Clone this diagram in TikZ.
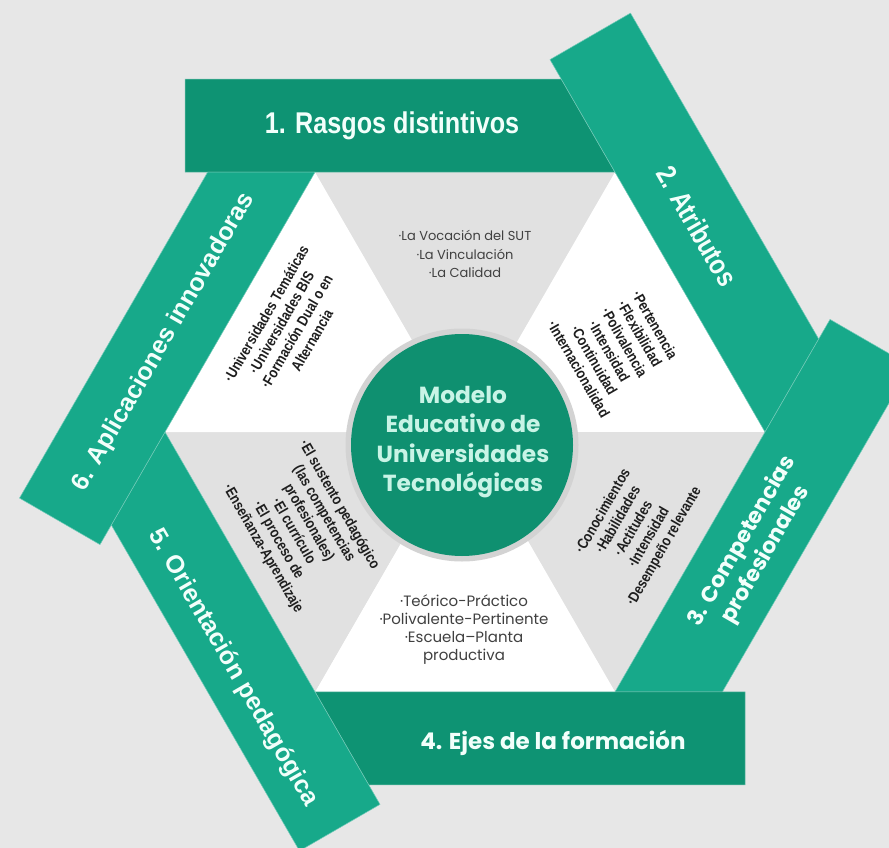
\documentclass[tikz,border=0pt]{standalone}
\usepackage{fontspec}
\setmainfont{Liberation Sans}
\newfontfamily\pop{Poppins}
\newfontfamily\lib{Liberation Sans}
\newfontfamily\narrowfont[FakeStretch=0.84]{Liberation Sans}
\usetikzlibrary{calc}
\definecolor{bg}{HTML}{E7E7E7}
\definecolor{sect}{HTML}{E1E1E1}
\definecolor{gdark}{HTML}{0E9373}
\definecolor{glight}{HTML}{17A98A}
\definecolor{gcirc}{HTML}{0F9070}
\definecolor{mint}{HTML}{C8F4E6}
\definecolor{bandtext}{HTML}{F2FFFB}
\definecolor{ringc}{HTML}{D3D3D3}
\definecolor{listc}{HTML}{1E1E1E}
\tikzset{
  bandfill/.style={fill=#1, draw=#1!60!white, line width=0.5pt, line join=miter},
  sectgrey/.style={fill=sect},
  sectwhite/.style={fill=white},
  bandtxt/.style={text=bandtext, inner sep=0pt, align=center},
  listtxt/.style={text=listc, inner sep=0pt, align=center, font=\narrowfont\bfseries\fontsize{15}{17.6}\selectfont},
  flattxt/.style={text=listc!85!white, inner sep=0pt, align=center},
}
\begin{document}
\begin{tikzpicture}[x=1pt,y=-1pt]
\path[use as bounding box, fill=bg] (0,0) rectangle (889,848);
\clip (0,0) rectangle (889,848);
% hexagon vertices
\coordinate (C) at (465,432);
\coordinate (TL) at (315,172.2);
\coordinate (TR) at (615,172.2);
\coordinate (R) at (765,432);
\coordinate (BR) at (615,691.8);
\coordinate (BL) at (315,691.8);
\coordinate (L) at (165,432);
% sectors
\fill[sectgrey]  (C)--(TL)--(TR)--cycle;
\fill[sectwhite] (C)--(TR)--(R)--cycle;
\fill[sectgrey]  (C)--(R)--(BR)--cycle;
\fill[sectwhite] (C)--(BR)--(BL)--cycle;
\fill[sectgrey]  (C)--(BL)--(L)--cycle;
\fill[sectwhite] (C)--(L)--(TL)--cycle;
% band corner coordinates
\coordinate (b1a) at (185,172.2);   \coordinate (b1b) at (185,79.2);    \coordinate (b1c) at (561.3,79.2);
\coordinate (b2a) at (550,59.6);    \coordinate (b2b) at (630.5,13.1);  \coordinate (b2c) at (818.7,339);
\coordinate (b3a) at (830,319.4);   \coordinate (b3b) at (910.5,365.9); \coordinate (b3c) at (722.4,691.8);
\coordinate (b4a) at (745,691.8);   \coordinate (b4b) at (745,784.8);   \coordinate (b4c) at (368.7,784.8);
\coordinate (b5a) at (380,804.4);   \coordinate (b5b) at (299.5,850.9); \coordinate (b5c) at (111.3,525);
\coordinate (b6a) at (100,544.6);   \coordinate (b6b) at (19.5,498.1);  \coordinate (b6c) at (207.6,172.2);
% bands
\path[bandfill=gdark]  (b1a)--(b1b)--(b1c)--(TR)--cycle;
\path[bandfill=glight] (b2a)--(b2b)--(b2c)--(R)--cycle;
\path[bandfill=glight] (b3a)--(b3b)--(b3c)--(BR)--cycle;
\path[bandfill=gdark]  (b4a)--(b4b)--(b4c)--(BL)--cycle;
\path[bandfill=glight] (b5a)--(b5b)--(b5c)--(L)--cycle;
\path[bandfill=glight] (b6a)--(b6b)--(b6c)--(TL)--cycle;
% band labels
\node[bandtxt, font=\narrowfont\bfseries\fontsize{30}{34}\selectfont] (t1) at (392,126) {1. Rasgos distintivos};
\node[bandtxt, rotate=-60, font=\narrowfont\bfseries\fontsize{28}{32}\selectfont] (t2) at (697,226) {2. Atributos};
\node[bandtxt, rotate=60, font=\pop\bfseries\fontsize{22}{27}\selectfont] (t3) at (754,548) {3. Competencias\\profesionales};
\node[bandtxt, font=\pop\bfseries\fontsize{23}{27}\selectfont] (t4) at (553,743) {4. Ejes de la formación};
\node[bandtxt, rotate=-60, font=\lib\bfseries\fontsize{25}{30}\selectfont] (t5) at (233,668) {5. Orientación pedagógica};
\node[bandtxt, rotate=60, font=\lib\bfseries\fontsize{25}{30}\selectfont] (t6) at (164,342) {6. Aplicaciones innovadoras};
% sector lists
\node[flattxt, font=\pop\fontsize{13}{18.5}\selectfont] (l1) at (465,254) {·La Vocación del SUT\\·La Vinculación\\·La Calidad};
\node[listtxt, rotate=-60] (l2) at (617,347) {·Pertenencia\\·Flexibilidad\\·Polivalencia\\·Intensidad\\·Continuidad\\·Internacionalidad};
\node[listtxt, rotate=60] (l3) at (634,529) {·Conocimientos\\·Habilidades\\·Actitudes\\·Intensidad\\·Desempeño relevante};
\node[flattxt, font=\pop\fontsize{15}{18}\selectfont] (l4) at (464,630) {·Teórico-Práctico\\·Polivalente-Pertinente\\·Escuela–Planta\\productiva};
\node[listtxt, rotate=-60] (l5) at (301,527) {·El sustento pedagógico\\(las competencias\\profesionales)\\·El currículo\\·El proceso de\\·Enseñanza-Aprendizaje};
\node[listtxt, rotate=60] (l6) at (289,327) {·Universidades Temáticas\\·Universidades BIS\\·Formación Dual o en\\Alternancia};
% centre
\fill[ringc] (462,445) circle (116.5pt);
\node[circle, fill=gcirc, minimum size=222pt, inner sep=0pt] (core) at (462,445) {};
\node[text=mint, align=center, inner sep=0pt,
      font=\pop\bfseries\fontsize{23.3}{29.3}\selectfont] (coretxt) at (463,442)
      {Modelo\\Educativo de\\Universidades\\Tecnológicas};
\end{tikzpicture}
\end{document}
